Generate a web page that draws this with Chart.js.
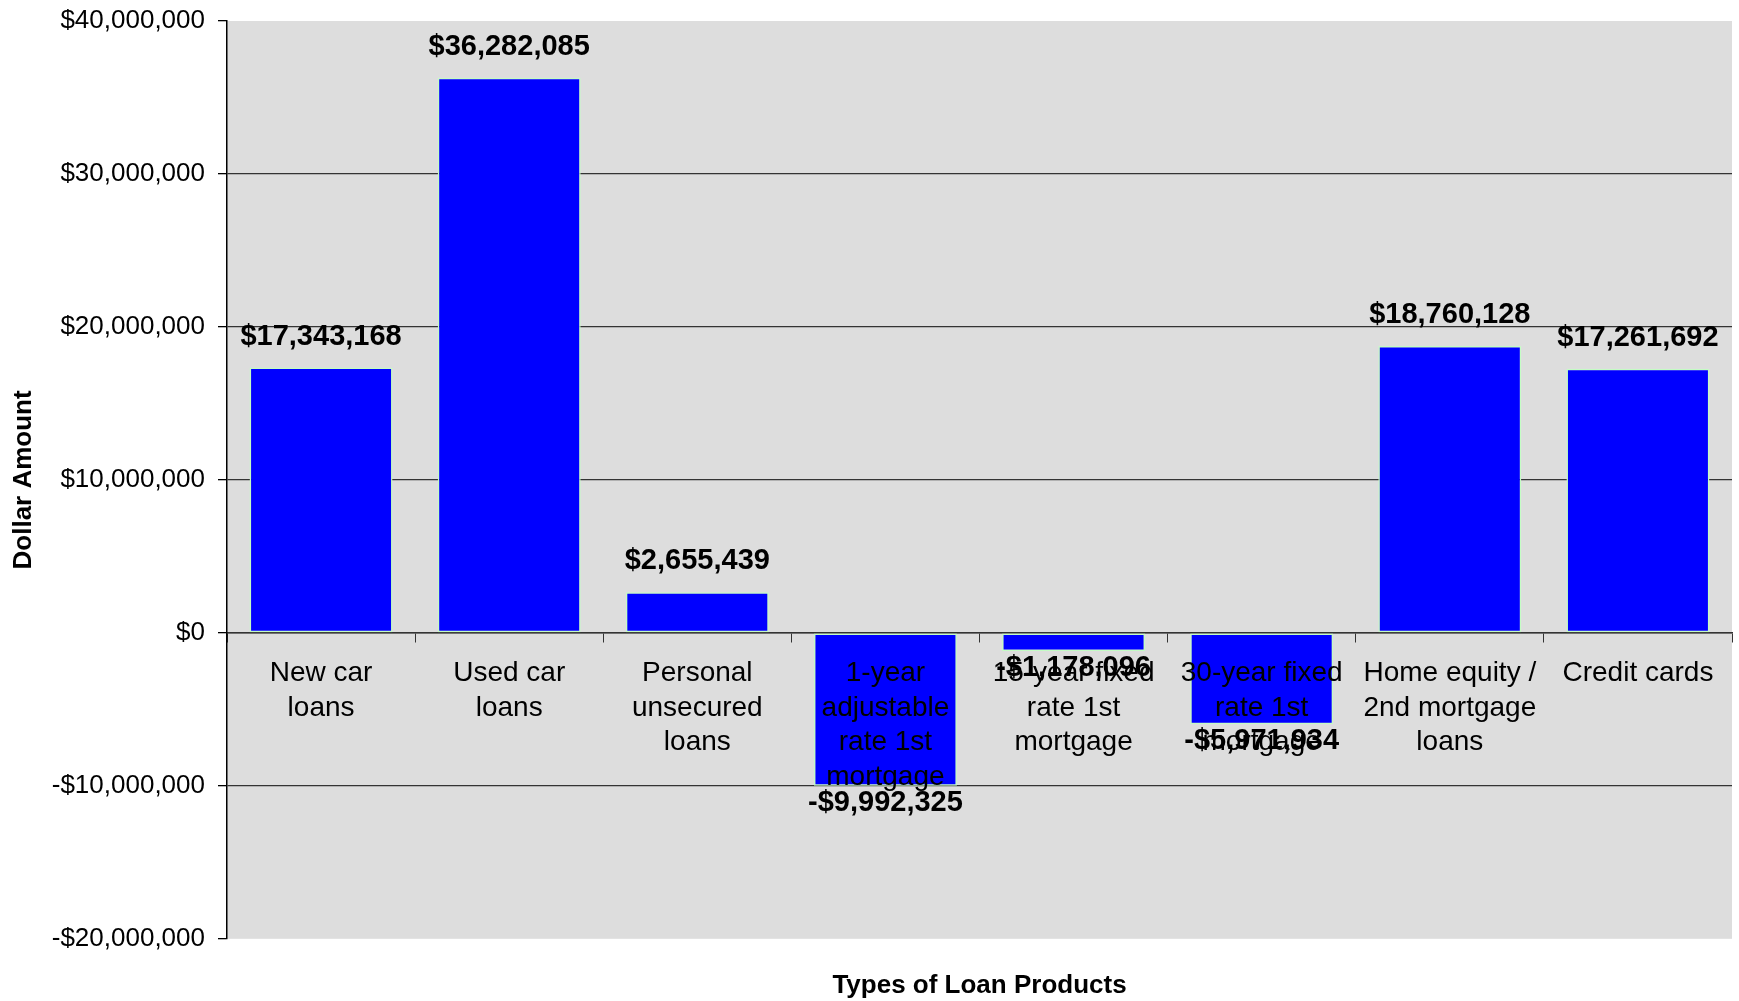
<!DOCTYPE html>
<html>
<head>
<meta charset="utf-8">
<title>Types of Loan Products</title>
<script src="https://cdn.jsdelivr.net/npm/chart.js@4.4.1/dist/chart.umd.min.js"></script>
<style>
  html, body { margin: 0; padding: 0; background: #fff; }
  #wrap { width: 1739px; height: 1001px; position: relative; }
</style>
</head>
<body>
<div id="wrap"><canvas id="loanChart"></canvas></div>
<script>
// chart data
const categories = [
    ['New car', 'loans'],
    ['Used car', 'loans'],
    ['Personal', 'unsecured', 'loans'],
    ['1-year', 'adjustable', 'rate 1st', 'mortgage'],
    ['15-year fixed', 'rate 1st', 'mortgage'],
    ['30-year fixed', 'rate 1st', 'mortgage'],
    ['Home equity /', '2nd mortgage', 'loans'],
    ['Credit cards']
];
const amounts = [17343168, 36282085, 2655439, -9992325, -1178096, -5971934, 18760128, 17261692];
const yTicks = [-20000000, -10000000, 0, 10000000, 20000000, 30000000, 40000000];

const FONT = '"Liberation Sans", Arial, Helvetica, sans-serif';

function money(v) {
    return (v < 0 ? '-' : '') + '$' + Math.abs(v).toLocaleString('en-US');
}

// grey plot area
const plotBackground = {
    id: 'plotBackground',
    beforeDraw(chart) {
        const a = chart.chartArea;
        const ctx = chart.ctx;
        ctx.save();
        ctx.fillStyle = '#dddddd';
        ctx.fillRect(a.left, a.top, a.right - a.left, a.bottom - a.top);
        ctx.restore();
    }
};

// value labels above / below each bar
const valueLabels = {
    id: 'valueLabels',
    afterDraw(chart) {
        const ctx = chart.ctx;
        const meta = chart.getDatasetMeta(0);
        ctx.save();
        ctx.font = 'bold 29px ' + FONT;
        ctx.fillStyle = '#000';
        ctx.textAlign = 'center';
        ctx.textBaseline = 'middle';
        meta.data.forEach((bar, i) => {
            const v = amounts[i];
            const y = v >= 0 ? bar.y - 31 : bar.y + 17;
            ctx.fillText(money(v), bar.x, y);
        });
        ctx.restore();
    }
};

const ctx = document.getElementById('loanChart').getContext('2d');
new Chart(ctx, {
    type: 'bar',
    data: {
        labels: categories,
        datasets: [{
            data: amounts,
            backgroundColor: '#0000ff',
            borderColor: '#c4fcc4',
            borderWidth: 1.5,
            borderSkipped: false,
            barPercentage: 0.76,
            categoryPercentage: 1
        }]
    },
    options: {
        responsive: true,
        maintainAspectRatio: false,
        animation: false,
        layout: { padding: { left: 0, top: 21, right: 7, bottom: 0 } },
        plugins: {
            legend: { display: false },
            tooltip: { enabled: false }
        },
        scales: {
            x: {
                type: 'category',
                position: { y: 0 },
                offset: true,
                grid: {
                    offset: true,
                    drawOnChartArea: false,
                    drawTicks: true,
                    tickLength: 9,
                    color: '#333'
                },
                border: { display: true, color: '#333', width: 1.5 },
                ticks: {
                    z: 1,
                    color: '#000',
                    font: { family: FONT, size: 28, lineHeight: 1.24 },
                    padding: 14,
                    maxRotation: 0,
                    minRotation: 0,
                    autoSkip: false
                }
            },
            // bottom axis used only for the axis title, centred under the plot
            xTitle: {
                type: 'category',
                position: 'bottom',
                grid: { display: false, drawTicks: false, tickLength: 0 },
                border: { display: false },
                ticks: { display: false },
                title: {
                    display: true,
                    text: 'Types of Loan Products',
                    color: '#000',
                    font: { family: FONT, size: 26, weight: 'bold' },
                    padding: { top: 31, bottom: 0 }
                }
            },
            y: {
                min: yTicks[0],
                max: yTicks[yTicks.length - 1],
                afterFit(scale) {
                    scale.width = 227;
                    scale.paddingTop = 0;
                    scale.paddingBottom = 0;
                },
                afterBuildTicks(scale) { scale.ticks = yTicks.map(v => ({ value: v })); },
                grid: {
                    color: c => (c.tick && (c.tick.value === yTicks[0] || c.tick.value === yTicks[yTicks.length - 1])) ? 'rgba(0,0,0,0)' : '#333',
                    tickColor: '#000',
                    tickLength: 9,
                    lineWidth: 1.3
                },
                border: { display: true, color: '#000', width: 1.5 },
                ticks: {
                    color: '#000',
                    font: { family: FONT, size: 26 },
                    padding: 13,
                    callback: v => money(v)
                },
                title: {
                    display: true,
                    text: 'Dollar Amount',
                    color: '#000',
                    font: { family: FONT, size: 26, weight: 'bold' },
                    padding: { top: 8, bottom: 0 }
                }
            }
        }
    },
    plugins: [plotBackground, valueLabels]
});
</script>
</body>
</html>
